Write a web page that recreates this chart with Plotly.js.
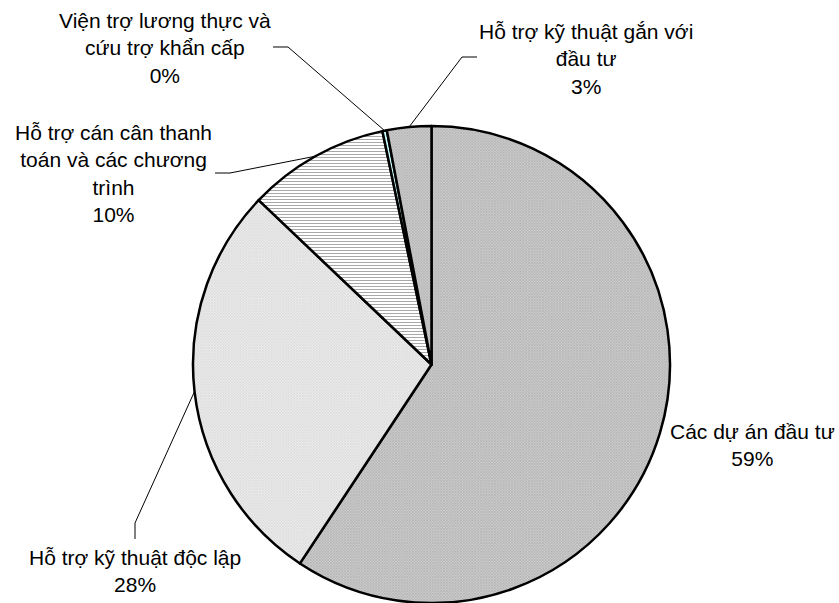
<!DOCTYPE html>
<html>
<head>
<meta charset="utf-8">
<script src="https://cdn.plot.ly/plotly-3.0.1.min.js"></script>
<style>
  html, body { margin: 0; padding: 0; background: #fff; }
  #chart { width: 839px; height: 603px; }
</style>
</head>
<body>
<div id="chart"></div>
<script>
// Cơ cấu vốn theo hình thức hỗ trợ
const categories = [
  'Các dự án đầu tư',
  'Hỗ trợ kỹ thuật độc lập',
  'Hỗ trợ cán cân thanh toán và các chương trình',
  'Viện trợ lương thực và cứu trợ khẩn cấp',
  'Hỗ trợ kỹ thuật gắn với đầu tư'
];
const shares = [59.3, 27.8, 9.6, 0.3, 3.0];

// Label text broken over lines as it is printed
const labelLines = [
  ['Các dự án đầu tư'],
  ['Hỗ trợ kỹ thuật độc lập'],
  ['Hỗ trợ cán cân thanh', 'toán và các chương', 'trình'],
  ['Viện trợ lương thực và', 'cứu trợ khẩn cấp'],
  ['Hỗ trợ kỹ thuật gắn với', 'đầu tư']
];

const W = 839, H = 603;
const CX = 431.5, CY = 364.5, R = 238.5;   // pie centre / radius in pixels

// Label block centres and leader-line elbows (pixels)
const labelPos = [
  {x: 752, y: 445},
  {x: 135, y: 571},
  {x: 113, y: 173},
  {x: 165, y: 48},
  {x: 586, y: 59}
];
const leaders = [
  null,
  [[135, 523], [135, 539]],
  [[230, 173], [215, 173]],
  [[288, 47], [273, 47]],
  [[462, 57], [477, 57]]
];

const px = x => x / W;
const py = y => 1 - y / H;

const total = shares.reduce((a, b) => a + b, 0);

// mid-angle point on the rim for each slice (clockwise from 12 o'clock)
let acc = 0;
const rimPts = shares.map(v => {
  const mid = (acc + v / 2) / total * 2 * Math.PI;
  acc += v;
  return [CX + R * Math.sin(mid), CY - R * Math.cos(mid)];
});

const shapes = [];
leaders.forEach((seg, i) => {
  if (!seg) return;
  const pts = [rimPts[i]].concat(seg);
  const path = pts.map((p, k) => (k ? 'L' : 'M') + px(p[0]).toFixed(5) + ',' + py(p[1]).toFixed(5)).join(' ');
  shapes.push({
    type: 'path', xref: 'paper', yref: 'paper', path: path,
    line: {color: '#000', width: 1}
  });
});

const annotations = categories.map((c, i) => ({
  xref: 'paper', yref: 'paper',
  x: px(labelPos[i].x), y: py(labelPos[i].y),
  xanchor: 'center', yanchor: 'middle',
  showarrow: false, align: 'center',
  text: labelLines[i].concat([Math.round(shares[i] / total * 100) + '%']).join('<br>'),
  font: {family: 'Liberation Sans, Arial, sans-serif', size: 21, color: '#000'}
}));

const trace = {
  type: 'pie',
  labels: categories,
  values: shares,
  sort: false,
  direction: 'clockwise',
  rotation: 0,
  textinfo: 'none',
  hoverinfo: 'label+percent',
  domain: {x: [(CX - R) / W, (CX + R) / W], y: [(H - CY - R) / H, (H - CY + R) / H]},
  marker: {
    colors: ['#c0c0c0', '#e6e6e6', '#ffffff', '#ccffff', '#c0c0c0'],
    line: {color: '#000', width: 2.5},
    pattern: {
      shape: ['x', 'x', '-', '', 'x'],
      fgcolor: ['#a8a8a8', '#d2d2d2', '#a8a8a8', '#000', '#a8a8a8'],
      bgcolor: ['#cfcfcf', '#eeeeee', '#ffffff', '#ccffff', '#cfcfcf'],
      fillmode: 'replace',
      size: [2, 2, 3, 2, 2],
      solidity: [0.5, 0.5, 0.35, 0.5, 0.5]
    }
  }
};

const layout = {
  width: W, height: H,
  margin: {l: 0, r: 0, t: 0, b: 0},
  paper_bgcolor: '#fff',
  showlegend: false,
  shapes: shapes,
  annotations: annotations
};

Plotly.newPlot('chart', [trace], layout, {displayModeBar: false, staticPlot: true});
</script>
</body>
</html>
